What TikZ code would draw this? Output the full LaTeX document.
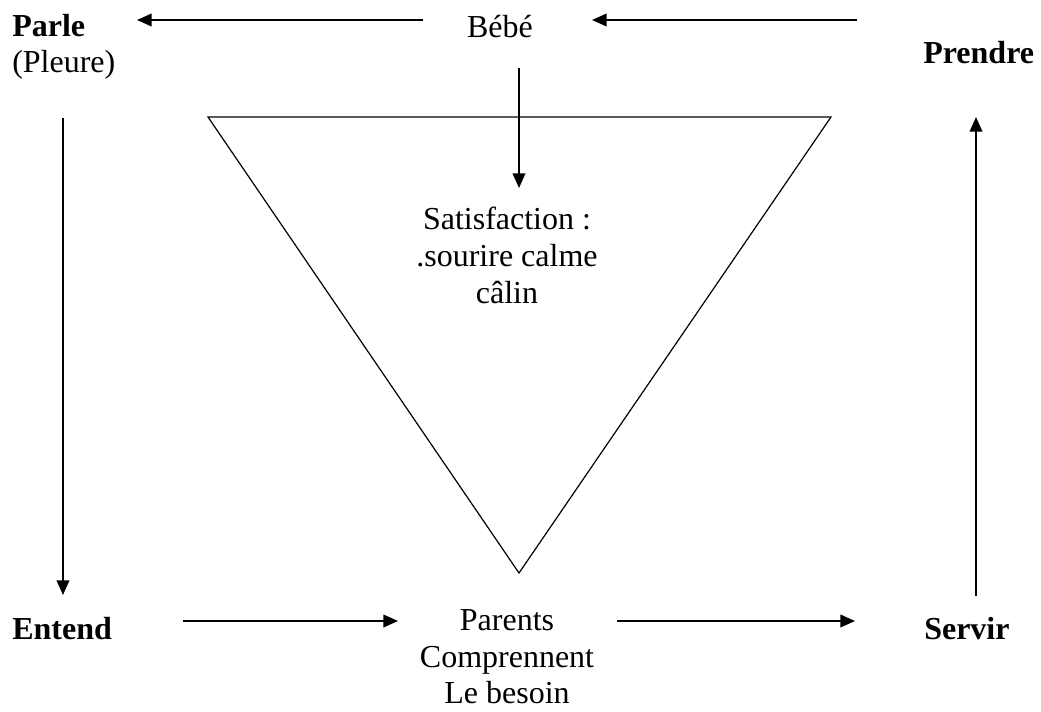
\documentclass[tikz,border=0pt]{standalone}
\usepackage{fontspec}
\setmainfont{Liberation Serif}
\usetikzlibrary{arrows.meta}
\begin{document}
\begin{tikzpicture}[x=0.75pt,y=-0.75pt,
  txt/.style={inner sep=0pt,font=\fontsize{24}{27.6}\selectfont},
  bold/.style={txt,font=\fontsize{24}{27.6}\selectfont\bfseries},
  conn/.style={line width=1.3pt,-{Triangle[length=11pt,width=9.5pt]}},
  tri/.style={line width=0.9pt}]
\useasboundingbox (0,0) rectangle (1041,711);
% text nodes
\node[bold,anchor=base west] (parle) at (12,36) {Parle};
\node[txt,anchor=base west] (pleure) at (12,72) {(Pleure)};
\node[txt,anchor=base] (bebe) at (500,37) {Bébé};
\node[bold,anchor=base west] (prendre) at (923,63) {Prendre};
\node[txt,anchor=north,align=center] (satis) at (507,207) {Satisfaction :\\.sourire calme\\câlin};
\node[bold,anchor=base west] (entend) at (12,639) {Entend};
\node[txt,anchor=north,align=center] (parents) at (507,609) {Parents\\Comprennent\\Le besoin};
\node[bold,anchor=base west] (servir) at (924,639) {Servir};
% triangle
\coordinate (tl) at (208,117);
\coordinate (tr) at (831,117);
\coordinate (tb) at (519,573);
\draw[tri,line join=miter] (tl) -- (tr) -- (tb) -- cycle;
% connector end points
\coordinate (a1s) at (423,20);  \coordinate (a1e) at (137,20);
\coordinate (a2s) at (857,20);  \coordinate (a2e) at (592,20);
\coordinate (a3s) at (519,68);  \coordinate (a3e) at (519,188);
\coordinate (a4s) at (63,118);  \coordinate (a4e) at (63,595);
\coordinate (a5s) at (183,621); \coordinate (a5e) at (398,621);
\coordinate (a6s) at (617,621); \coordinate (a6e) at (855,621);
\coordinate (a7s) at (976,596); \coordinate (a7e) at (976,117);
\draw[conn] (a1s) -- (a1e);
\draw[conn] (a2s) -- (a2e);
\draw[conn] (a3s) -- (a3e);
\draw[conn] (a4s) -- (a4e);
\draw[conn] (a5s) -- (a5e);
\draw[conn] (a6s) -- (a6e);
\draw[conn] (a7s) -- (a7e);
\end{tikzpicture}
\end{document}
